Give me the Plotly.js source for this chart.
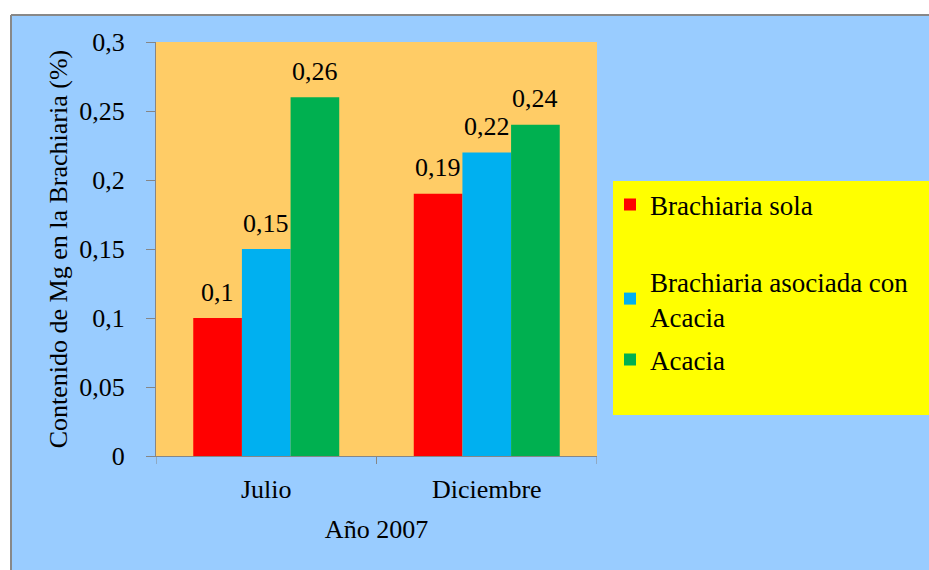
<!DOCTYPE html>
<html>
<head>
<meta charset="utf-8">
<script src="https://cdn.plot.ly/plotly-3.0.1.min.js"></script>
<style>html,body{margin:0;padding:0;background:#fff;}</style>
</head>
<body>
<div id="chart" style="width:929px;height:570px;"></div>
<script>
const categories = ["Julio", "Diciembre"];
const seriesNames = ["Brachiaria sola", "Brachiaria asociada con<br>Acacia", "Acacia"];
const brachiariaSola = [0.10, 0.19];
const brachiariaAsociada = [0.15, 0.22];
const acacia = [0.26, 0.24];
const seriesValues = [brachiariaSola, brachiariaAsociada, acacia];
const seriesColors = ["#FF0000", "#00B0F0", "#00B050"];
const yTickVals = [0, 0.05, 0.1, 0.15, 0.2, 0.25, 0.3];
const yTickText = ["0", "0,05", "0,1", "0,15", "0,2", "0,25", "0,3"];

const W = 929, H = 570;
const M = {l: 156, r: 332, t: 42, b: 114};
const PW = W - M.l - M.r, PH = H - M.t - M.b;
const px = v => (v - M.l) / PW;
const py = v => (M.t + PH - v) / PH;

const FONT = "Liberation Serif";
const FS = 26;
const bargap = 0.338;
const barW = (1 - bargap) / seriesValues.length;
const fmt = v => String(v).replace(".", ",");

const legendKeys = ["legend", "legend2", "legend3"];
const traces = seriesValues.map((vals, j) => ({
  type: "bar",
  name: seriesNames[j],
  x: categories.map((c, i) => i),
  y: vals,
  marker: {color: seriesColors[j]},
  legend: legendKeys[j],
  hoverinfo: "none"
}));

const annotations = [];
seriesValues.forEach((vals, j) => {
  vals.forEach((v, i) => {
    annotations.push({
      x: i + (j - (seriesValues.length - 1) / 2) * barW,
      y: v, xref: "x", yref: "y",
      text: fmt(v), showarrow: false,
      yanchor: "middle", xanchor: "center", yshift: 26,
      font: {family: FONT, size: FS, color: "#000"}
    });
  });
});

const legendCenters = [205, 299, 360];
const legendBase = {
  bgcolor: "rgba(0,0,0,0)", borderwidth: 0,
  font: {family: FONT, size: 27, color: "#000"},
  xanchor: "left", yanchor: "middle", itemclick: false
};

const layout = {
  width: W, height: H,
  margin: M,
  paper_bgcolor: "#99CCFF",
  plot_bgcolor: "#FFCC66",
  barmode: "group",
  bargap: bargap,
  bargroupgap: 0,
  showlegend: true,
  font: {family: FONT, size: FS, color: "#000"},
  xaxis: {
    range: [-0.5, 1.5],
    tickvals: categories.map((c, i) => i),
    ticktext: categories,
    showline: true, linecolor: "#868686", linewidth: 1,
    ticks: "", showgrid: false, zeroline: false,
    ticklabelstandoff: 10,
    tickfont: {family: FONT, size: FS, color: "#000"},
    title: {text: "Año 2007", font: {family: FONT, size: FS, color: "#000"}, standoff: 16}
  },
  yaxis: {
    range: [0, 0.3],
    tickvals: yTickVals, ticktext: yTickText,
    showline: true, linecolor: "#868686", linewidth: 1,
    ticks: "outside", ticklen: 9, tickcolor: "#868686",
    showgrid: false, zeroline: false,
    ticklabelstandoff: 16,
    tickfont: {family: FONT, size: FS, color: "#000"},
    title: {text: "Contenido de Mg en la Brachiaria (%)", font: {family: FONT, size: FS, color: "#000"}, standoff: 4}
  },
  legend: Object.assign({}, legendBase, {x: px(610), y: py(legendCenters[0])}),
  legend2: Object.assign({}, legendBase, {x: px(610), y: py(legendCenters[1])}),
  legend3: Object.assign({}, legendBase, {x: px(610), y: py(legendCenters[2])}),
  annotations: annotations,
  shapes: [
    {type: "rect", xref: "paper", yref: "paper", x0: px(0), x1: px(W), y0: py(0), y1: py(15), fillcolor: "#FFFFFF", line: {width: 0}, layer: "below"},
    {type: "rect", xref: "paper", yref: "paper", x0: px(0), x1: px(11), y0: py(0), y1: py(H), fillcolor: "#FFFFFF", line: {width: 0}, layer: "below"},
    {type: "line", xref: "paper", yref: "paper", x0: px(11), x1: px(W), y0: py(15), y1: py(15), line: {color: "#888888", width: 2}},
    {type: "line", xref: "paper", yref: "paper", x0: px(11), x1: px(11), y0: py(15), y1: py(H), line: {color: "#888888", width: 2}},
    {type: "line", xref: "x", yref: "paper", x0: -0.5, x1: -0.5, y0: 0, y1: py(M.t + PH + 8), line: {color: "#868686", width: 1}},
    {type: "line", xref: "x", yref: "paper", x0: 0.5, x1: 0.5, y0: 0, y1: py(M.t + PH + 8), line: {color: "#868686", width: 1}},
    {type: "line", xref: "x", yref: "paper", x0: 1.5, x1: 1.5, y0: 0, y1: py(M.t + PH + 8), line: {color: "#868686", width: 1}},
    {type: "rect", xref: "paper", yref: "paper", x0: px(613), x1: px(W + 5), y0: py(415), y1: py(181), fillcolor: "#FFFF00", line: {width: 0}, layer: "below"}
  ]
};

Plotly.newPlot("chart", traces, layout, {displayModeBar: false, staticPlot: true});
</script>
</body>
</html>
